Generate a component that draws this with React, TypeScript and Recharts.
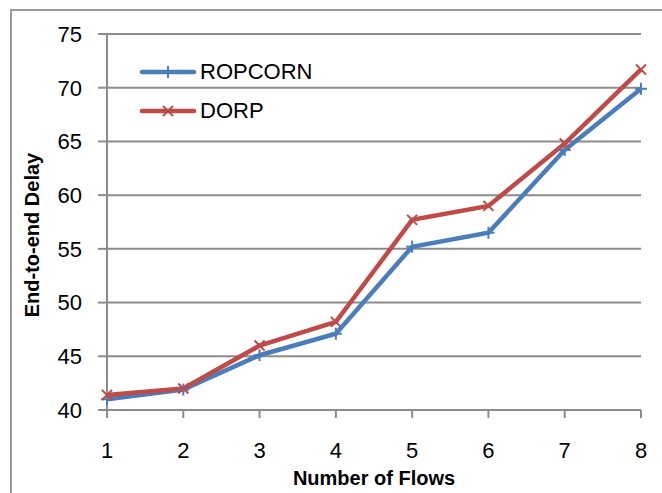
import { LineChart, Line, XAxis, YAxis, CartesianGrid, Label } from 'recharts';

const flows = [1, 2, 3, 4, 5, 6, 7, 8];
const ropcorn = [41.0, 41.9, 45.1, 47.1, 55.2, 56.5, 64.2, 69.9];
const dorp = [41.4, 42.0, 46.0, 48.2, 57.7, 59.0, 64.8, 71.7];
const yTicks = [40, 45, 50, 55, 60, 65, 70, 75];

const BLUE = '#4A7EBB';
const RED = '#BE4B48';
const GRID = '#8C8C8C';
const FONT = '"Liberation Sans", Arial, sans-serif';

const data = flows.map((f, i) => ({ flow: f, ropcorn: ropcorn[i], dorp: dorp[i] }));

const legendRows = [
    { name: 'ROPCORN', color: BLUE, kind: 'plus' },
    { name: 'DORP', color: RED, kind: 'cross' },
];

const PlusDot = (props: any) => {
    const { cx, cy } = props;
    if (cx == null || cy == null) return null;
    return (
        <g>
            <line x1={cx} y1={cy - 6} x2={cx} y2={cy + 6} stroke={BLUE} strokeWidth={2} />
            <line x1={cx - 6} y1={cy} x2={cx + 6} y2={cy} stroke={BLUE} strokeWidth={2} />
        </g>
    );
};

const CrossDot = (props: any) => {
    const { cx, cy } = props;
    if (cx == null || cy == null) return null;
    return (
        <g>
            <line x1={cx - 5} y1={cy - 5} x2={cx + 5} y2={cy + 5} stroke={RED} strokeWidth={2} />
            <line x1={cx - 5} y1={cy + 5} x2={cx + 5} y2={cy - 5} stroke={RED} strokeWidth={2} />
        </g>
    );
};

function ChartLegend() {
    return (
        <div style={{ position: 'absolute', left: 139, top: 52, fontFamily: FONT, fontSize: 22, color: '#000' }}>
            {legendRows.map((r) => (
                <div key={r.name} style={{ display: 'flex', alignItems: 'center', height: 39 }}>
                    <svg width={58} height={20} style={{ marginRight: 3 }}>
                        <line x1={3} y1={10} x2={55} y2={10} stroke={r.color} strokeWidth={4.5} strokeLinecap="round" />
                        {r.kind === 'plus' ? (
                            <line x1={29} y1={4} x2={29} y2={16} stroke={r.color} strokeWidth={2} />
                        ) : (
                            <g>
                                <line x1={24} y1={5} x2={34} y2={15} stroke={r.color} strokeWidth={2} />
                                <line x1={24} y1={15} x2={34} y2={5} stroke={r.color} strokeWidth={2} />
                            </g>
                        )}
                    </svg>
                    <span>{r.name}</span>
                </div>
            ))}
        </div>
    );
}

export default function App() {
    return (
        <div style={{ position: 'absolute', left: 0, top: 0, width: 662, height: 493, overflow: 'hidden', background: '#fff' }}>
            <div
                style={{
                    position: 'absolute',
                    left: 10,
                    top: 9,
                    width: 700,
                    height: 600,
                    border: '2px solid #9A9A9A',
                    boxSizing: 'border-box',
                }}
            />
            <div style={{ position: 'absolute', left: 0, top: 0 }}>
                <LineChart width={662} height={493} data={data} margin={{ top: 34, right: 21, left: 47, bottom: 0 }}>
                    <CartesianGrid horizontal vertical={false} stroke={GRID} strokeWidth={2} />
                    <XAxis
                        dataKey="flow"
                        type="number"
                        domain={[1, 8]}
                        ticks={flows}
                        height={83}
                        axisLine={{ stroke: GRID, strokeWidth: 2 }}
                        tickLine={{ stroke: GRID, strokeWidth: 2 }}
                        tickSize={8}
                        tickMargin={24}
                        tick={{ fill: '#000', fontSize: 22, fontFamily: FONT }}
                    >
                        <Label
                            value="Number of Flows"
                            position="insideBottom"
                            offset={8}
                            style={{ fill: '#000', fontSize: 20, fontWeight: 700, fontFamily: FONT }}
                        />
                    </XAxis>
                    <YAxis
                        domain={[40, 75]}
                        ticks={yTicks}
                        width={60}
                        axisLine={{ stroke: GRID, strokeWidth: 2 }}
                        tickLine={{ stroke: GRID, strokeWidth: 2 }}
                        tickSize={9}
                        tickMargin={16}
                        tick={{ fill: '#000', fontSize: 22, fontFamily: FONT }}
                    >
                        <Label
                            content={() => (
                                <text
                                    transform="translate(32,235) rotate(-90)"
                                    textAnchor="middle"
                                    dominantBaseline="central"
                                    style={{ fill: '#000', fontSize: 20, fontWeight: 700, fontFamily: FONT }}
                                >
                                    End-to-end Delay
                                </text>
                            )}
                        />
                    </YAxis>
                    <Line
                        type="linear"
                        dataKey="ropcorn"
                        name="ROPCORN"
                        stroke={BLUE}
                        strokeWidth={4.5}
                        dot={<PlusDot />}
                        activeDot={false}
                        isAnimationActive={false}
                    />
                    <Line
                        type="linear"
                        dataKey="dorp"
                        name="DORP"
                        stroke={RED}
                        strokeWidth={4.5}
                        dot={<CrossDot />}
                        activeDot={false}
                        isAnimationActive={false}
                    />
                </LineChart>
            </div>
            <ChartLegend />
        </div>
    );
}
